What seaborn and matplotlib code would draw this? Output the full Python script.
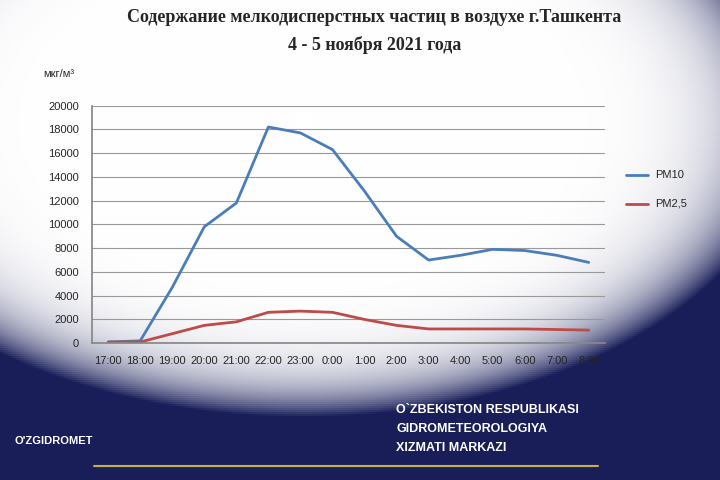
import numpy as np
import pandas as pd
import matplotlib
matplotlib.use("Agg")
import matplotlib.pyplot as plt
import seaborn as sns

times = ["17:00","18:00","19:00","20:00","21:00","22:00","23:00","0:00",
         "1:00","2:00","3:00","4:00","5:00","6:00","7:00","8:00"]
pm10 = [100, 200, 4700, 9800, 11800, 18200, 17700, 16300,
        12800, 9000, 7000, 7400, 7900, 7800, 7400, 6800]
pm25 = [100, 100, 800, 1500, 1800, 2600, 2700, 2600,
        2000, 1500, 1200, 1200, 1200, 1200, 1150, 1100]

sns.set_theme(style="white")
plt.rcParams['font.family'] = ['Liberation Serif', 'DejaVu Sans']

fig = plt.figure(figsize=(7.2, 4.8), dpi=100)
bg = fig.add_axes([0, 0, 1, 1], zorder=-10)
yy, xx = np.mgrid[0:1:240j, 0:1:360j]
d = np.clip(((xx - 0.42) / 0.68) ** 2 + ((yy - 0.75) / 0.62) ** 2, 0, 1)
d = d ** 5
white = np.array([1, 1, 1]); navy = np.array([0.10, 0.12, 0.35])
img = white * (1 - d[..., None]) + navy * d[..., None]
img[:int(240 * 0.2)] = img[:int(240 * 0.2)] * 0.3 + navy * 0.7 if False else img[:int(240 * 0.2)]
bg.imshow(img, extent=[0, 1, 0, 1], aspect='auto', origin='lower')
bg.set_xlim(0, 1); bg.set_ylim(0, 1)
bg.set_axis_off()

ax = fig.add_axes([0.128, 0.285, 0.712, 0.495])
df = pd.DataFrame({"t": list(range(len(times))) * 2,
                   "v": pm10 + pm25,
                   "s": ["PM10"] * len(times) + ["PM2,5"] * len(times)})
sns.lineplot(data=df, x="t", y="v", hue="s", palette=["#4a7ebb", "#be4b48"],
             linewidth=2, ax=ax, legend=False)
ax.set_xlim(-0.5, len(times) - 0.5)
ax.set_ylim(0, 20000)
ax.set_yticks(range(0, 20001, 2000))
ax.set_xticks(range(len(times)))
ax.set_xticklabels(times, fontsize=8, family=['Liberation Sans'])
ax.set_yticklabels([str(v) for v in range(0, 20001, 2000)], fontsize=8, family=['Liberation Sans'])
ax.grid(axis='y', color='#999999', linewidth=0.8)
ax.set_facecolor('none')
for s in ['top', 'right']:
    ax.spines[s].set_visible(False)
for s in ['left', 'bottom']:
    ax.spines[s].set_color('#888888')
ax.set_xlabel(""); ax.set_ylabel("")

fig.text(0.06, 0.84, "мкг/м³", fontsize=8, family=['Liberation Sans'])
fig.text(0.52, 0.955, "Содержание мелкодисперстных частиц в воздухе г.Ташкента",
         ha='center', fontsize=13, weight='bold')
fig.text(0.52, 0.895, "4 - 5 ноября 2021 года", ha='center', fontsize=13, weight='bold')

fig.lines.append(plt.Line2D([0.87, 0.9], [0.635, 0.635], color="#4a7ebb", lw=2, transform=fig.transFigure))
fig.lines.append(plt.Line2D([0.87, 0.9], [0.575, 0.575], color="#be4b48", lw=2, transform=fig.transFigure))
fig.text(0.91, 0.635, "PM10", va='center', fontsize=8, family=['Liberation Sans'])
fig.text(0.91, 0.575, "PM2,5", va='center', fontsize=8, family=['Liberation Sans'])

for i, t in enumerate(["O`ZBEKISTON RESPUBLIKASI", "GIDROMETEOROLOGIYA", "XIZMATI MARKAZI"]):
    fig.text(0.55, 0.14 - i * 0.04, t, color='white', fontsize=9, weight='bold',
             family=['Liberation Sans'])
fig.text(0.075, 0.075, "O'ZGIDROMET", color='white', fontsize=8, weight='bold',
         ha='center', family=['Liberation Sans'])
fig.lines.append(plt.Line2D([0.13, 0.83], [0.03, 0.03], color="#c8b040", lw=1.5, transform=fig.transFigure))

fig.savefig("out.png", dpi=100)
